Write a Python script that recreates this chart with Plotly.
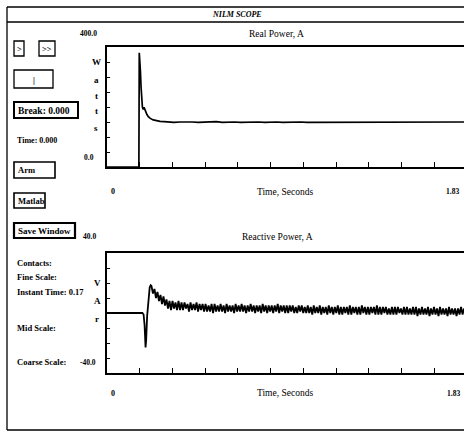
import numpy as np
import plotly.graph_objects as go

W, H = 464, 433

# ---------------- data ----------------
# Real power (W) : transient head then steady state
real_t_head = [0.0, 0.162, 0.164, 0.166, 0.168, 0.170, 0.173, 0.176, 0.180, 0.184,
               0.188, 0.192, 0.197, 0.203, 0.210, 0.220, 0.235, 0.250, 0.270, 0.290]
real_w_head = [0, 0, 381, 335, 370, 318, 268, 225, 200, 192,
               199, 193, 183, 175, 168, 162, 157, 154, 152, 151]
real_w_steady = [150, 149, 150, 151, 150, 149, 150, 150, 151, 149,
                 150, 150, 149, 150, 151, 150, 149, 150, 150, 149,
                 150, 151, 150, 149, 149, 150, 150, 149, 150, 151,
                 150, 149, 150, 150, 149, 149, 150, 150, 149, 150,
                 149, 150, 150, 149, 150, 149, 150, 149, 150, 150]
real_steady_span = [0.31, 1.815]

# Reactive power (VAr) : transient head then oscillating steady state
reac_t_head = [0.0, 0.180, 0.186, 0.191, 0.196, 0.199, 0.204, 0.211, 0.217, 0.222]
reac_v_head = [0, 0, -1, -8, -23, -18, -2, 12, 17, 18.5]
reac_v_osc = [
    18, 13, 16, 10, 14, 8, 12, 6, 11, 5,
    9, 3, 8, 2, 8, 3, 7, 2, 8, 2, 7, 2, 7, 3, 6, 1, 7, 2, 6, 2, 7, 1, 6, 2, 6, 1,
    6, 1, 5, 1, 6, 0, 6, 1, 5, 1, 6, 1, 5, 0, 6, 1, 5, 1, 5, 0, 6, 1, 5, 1, 6, 1, 5, 0,
    5, 1, 6, 1, 5, 0, 5, 1, 5, 0, 6, 1, 5, 0, 5, 1, 5, 0, 5, 1, 6, 0, 5, 1, 5, 0, 5, 0,
    5, 1, 5, 0, 4, 0, 5, 1, 5, 0,
    4, 0, 5, 0, 4, -1, 5, 0, 4, 0, 5, -1, 4, 0, 4, -1, 5, 0, 4, -1, 4, 0, 5, -1, 4, -1,
    4, 0, 4, -1, 5, -1, 4, 0, 4, -1, 4, -1, 5, 0, 4, -1, 4, -1, 4, 0, 4, -1, 5, -1, 4, -1,
    4, 0, 4, -1, 3, -1, 4, -1, 4, -1, 4, 0, 3, -1, 4, -1, 4, -1, 3, -1, 4, -1, 4, -2, 3, -1,
    4, -1, 3, -1, 4, -2, 3, -1, 4, -1, 3, -2, 4, -1, 3, -1, 3, -2, 4, -1, 3, -1, 3, -2, 3, -1,
    4, -1, 3]
reac_osc_span = [0.226, 1.815]

x_max_label = "1.83"
x_full = 1.83
real_range = [0, 400]
reac_range = [-40, 40]

# ---------------- build series ----------------
real_t = real_t_head + list(np.linspace(real_steady_span[0], real_steady_span[1], len(real_w_steady)))
real_w = real_w_head + real_w_steady
reac_t = reac_t_head + list(np.linspace(reac_osc_span[0], reac_osc_span[1], len(reac_v_osc)))
reac_v = reac_v_head + reac_v_osc

def px(x):
    return x / W

def py(y):
    return 1 - y / H

plot_left = 107
x_end = x_full * (W - plot_left) / 360.0

fig = go.Figure()
fig.add_trace(go.Scatter(x=real_t, y=real_w, mode="lines",
                         line=dict(color="black", width=1.7), xaxis="x", yaxis="y",
                         showlegend=False, hoverinfo="skip"))
fig.add_trace(go.Scatter(x=reac_t, y=reac_v, mode="lines",
                         line=dict(color="black", width=1.8), xaxis="x2", yaxis="y2",
                         showlegend=False, hoverinfo="skip"))

axis_common = dict(showgrid=False, zeroline=False, showticklabels=False,
                   showline=True, linecolor="black", linewidth=1.5,
                   ticks="inside", tickcolor="black", tickwidth=1.3)

fig.update_layout(
    width=W, height=H, margin=dict(l=0, r=0, t=0, b=0),
    paper_bgcolor="white", plot_bgcolor="white",
    xaxis=dict(domain=[px(plot_left), 1], range=[0, x_end], anchor="y",
               tick0=0, dtick=x_full / 11, ticklen=5, mirror=True, **axis_common),
    yaxis=dict(domain=[py(167), py(47)], range=real_range, anchor="x",
               tick0=0, dtick=50, ticklen=3, **axis_common),
    xaxis2=dict(domain=[px(plot_left), 1], range=[0, x_end], anchor="y2",
                tick0=0, dtick=x_full / 11, ticklen=5, mirror=True, **axis_common),
    yaxis2=dict(domain=[py(373), py(253)], range=reac_range, anchor="x2",
                tick0=-40, dtick=10, ticklen=3, **axis_common),
)

SERIF = "Liberation Serif"
shapes = []
annots = []

def line(x0, y0, x1, y1, w=1.3):
    shapes.append(dict(type="line", xref="paper", yref="paper",
                       x0=px(x0), y0=py(y0), x1=px(x1), y1=py(y1),
                       line=dict(color="black", width=w)))

def text(t, x, y, size=9, anchor="left", bold=False, italic=False):
    s = t
    if bold:
        s = "<b>" + s + "</b>"
    if italic:
        s = "<i>" + s + "</i>"
    annots.append(dict(text=s, xref="paper", yref="paper", x=px(x), y=py(y),
                       xanchor=anchor, yanchor="middle", showarrow=False,
                       font=dict(family=SERIF, size=size, color="black")))

def button(label, x0, y0, x1, y1, w=1.3, center=False, size=8.5):
    shapes.append(dict(type="rect", xref="paper", yref="paper",
                       x0=px(x0), y0=py(y0), x1=px(x1), y1=py(y1),
                       line=dict(color="black", width=w), fillcolor="white"))
    if center:
        text(label, (x0 + x1) / 2, (y0 + y1) / 2 + 0.5, size=size, anchor="center", bold=True)
    else:
        text(label, x0 + 1.5, (y0 + y1) / 2 + 0.5, size=size, anchor="left", bold=True)

# window frame
line(7, 7, W, 7, 1.3)
line(7, 22, W, 22, 1.3)
line(7, 7, 7, 430, 1.3)
line(7, 430, W, 430, 1.3)
text("NILM SCOPE", 237, 15, size=8, anchor="center", bold=True, italic=True)

# buttons
button(">", 14, 41, 24, 56, center=True)
button(">>", 39, 41, 55, 56, center=True)
button("|", 14, 70, 53, 88, center=True)
button("Break: 0.000", 14, 102, 78, 118, w=2, size=9.5)
button("Arm", 14, 162, 55, 178, w=1.6)
button("Matlab", 14, 193, 45, 208, w=1.6)
button("Save Window", 14, 223, 75, 238, w=2.2, size=9)

# left panel texts
text("Time: 0.000", 15, 141, size=8, bold=True)
text("Contacts:", 15, 263, size=8.5, bold=True)
text("Fine Scale:", 15, 277, size=8.5, bold=True)
text("Instant Time: 0.17", 15, 292, size=8.5, bold=True)
text("Mid Scale:", 15, 328, size=8.5, bold=True)
text("Coarse Scale:", 15, 362, size=8.5, bold=True)

# top plot labels
text("400.0", 88, 33, size=7.5, anchor="center", bold=True)
text("0.0", 89, 157, size=7.5, anchor="center", bold=True)
text("Real Power, A", 276, 34, size=9.5, anchor="center")
for ch, yy in zip(["W", "a", "t", "t", "s"], [62, 80, 96, 111, 128]):
    text(ch, 96, yy, size=9, anchor="center", bold=True)
text("0", 113, 192, size=8, anchor="center", bold=True)
text("Time, Seconds", 285, 192, size=9.5, anchor="center")
text(x_max_label, 461, 192, size=7.5, anchor="right", bold=True)

# bottom plot labels
text("40.0", 89, 236, size=7.5, anchor="center", bold=True)
text("-40.0", 88, 362, size=7.5, anchor="center", bold=True)
text("Reactive Power, A", 277, 237, size=9.5, anchor="center")
for ch, yy in zip(["V", "A", "r"], [283, 301, 319]):
    text(ch, 97, yy, size=9, anchor="center", bold=True)
text("0", 113, 393, size=8, anchor="center", bold=True)
text("Time, Seconds", 285, 393, size=9.5, anchor="center")
text(x_max_label, 462, 393, size=7.5, anchor="right", bold=True)

fig.update_layout(shapes=shapes, annotations=annots)
fig.write_html("out.html", config={"displayModeBar": False},
               post_script="document.body.style.margin='0';document.body.style.overflow='hidden';")
